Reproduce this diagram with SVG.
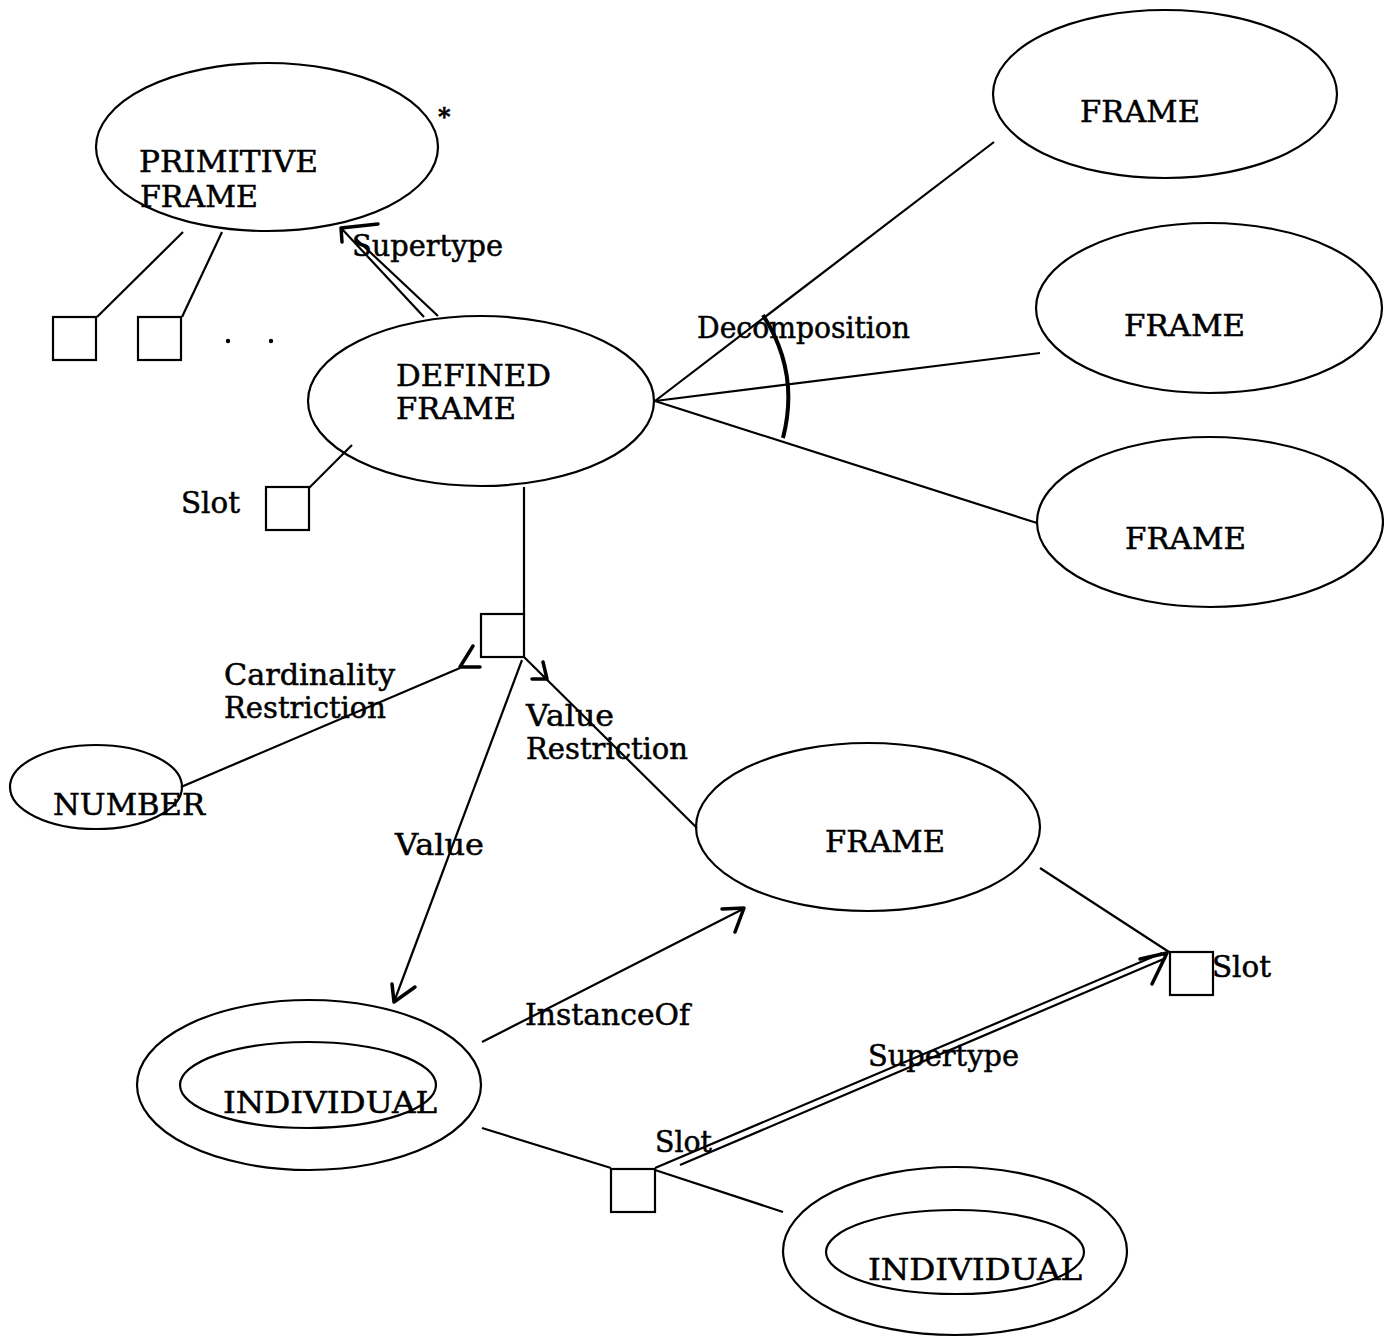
<svg xmlns="http://www.w3.org/2000/svg" width="1384" height="1338" viewBox="0 0 1384 1338">
<style>
.n{fill:none;stroke:#000;stroke-width:2.2}
.l{fill:none;stroke:#000;stroke-width:2.2}
.h{fill:none;stroke:#000;stroke-width:3.5;stroke-linecap:round;stroke-linejoin:round}
text{font-family:"DejaVu Serif","Liberation Serif",serif;font-size:29px;fill:#000;stroke:#000;stroke-width:0.5}
</style>
<rect width="1384" height="1338" fill="#fff"/>
<g id="connectors">
  <line class="l" x1="183" y1="232" x2="97" y2="317"/>
  <line class="l" x1="222" y1="232" x2="182" y2="317"/>
  <line class="l" x1="352" y1="445" x2="309" y2="488"/>
  <line class="l" x1="424" y1="317" x2="342" y2="229"/>
  <line class="l" x1="438" y1="316" x2="355" y2="238"/>
  <polyline class="h" points="378,224 341,228 342,242"/>
  <line class="l" x1="655" y1="401" x2="994" y2="142"/>
  <line class="l" x1="655" y1="401" x2="1040" y2="353"/>
  <line class="l" x1="655" y1="401" x2="1037" y2="523"/>
  <path d="M763,315 Q800,372 783,438" fill="none" stroke="#000" stroke-width="4"/>
  <line class="l" x1="524" y1="487" x2="524" y2="615"/>
  <line class="l" x1="181" y1="787" x2="460" y2="668"/>
  <polyline class="h" points="473,646 460,667 480,667"/>
  <line class="l" x1="524" y1="657" x2="697" y2="828"/>
  <polyline class="h" points="543,662 547,679 532,679"/>
  <line class="l" x1="522" y1="660" x2="394" y2="1002"/>
  <polyline class="h" points="392,984 394,1002 415,987"/>
  <line class="l" x1="482" y1="1042" x2="743" y2="909"/>
  <polyline class="h" points="722,909 744,908 735,932"/>
  <line class="l" x1="1040" y1="868" x2="1169" y2="952"/>
  <line class="l" x1="482" y1="1128" x2="611" y2="1168"/>
  <line class="l" x1="655" y1="1170" x2="783" y2="1212"/>
  <line class="l" x1="655" y1="1168" x2="1162" y2="953"/>
  <line class="l" x1="680" y1="1165" x2="1166" y2="958"/>
  <polyline class="h" points="1140,959 1167,953 1152,984"/>
</g>
<g id="primitive-frame">
  <ellipse class="n" cx="267" cy="147" rx="171" ry="84"/>
  <text x="139" y="172" textLength="179" lengthAdjust="spacingAndGlyphs">PRIMITIVE</text>
  <text x="140" y="207" textLength="118" lengthAdjust="spacingAndGlyphs">FRAME</text>
  <text x="438" y="125" style="font-size:24px;font-weight:bold">*</text>
</g>
<g id="primitive-slots">
  <rect class="n" x="53" y="317" width="43" height="43"/>
  <rect class="n" x="138" y="317" width="43" height="43"/>
  <circle cx="228" cy="341" r="2.2"/>
  <circle cx="271" cy="341" r="2.2"/>
</g>
<g id="supertype-label">
  <text x="352" y="256" textLength="151" lengthAdjust="spacingAndGlyphs">Supertype</text>
</g>
<g id="defined-frame">
  <ellipse class="n" cx="481" cy="401" rx="173" ry="85"/>
  <text x="396" y="386" textLength="155" lengthAdjust="spacingAndGlyphs">DEFINED</text>
  <text x="396" y="419" textLength="120" lengthAdjust="spacingAndGlyphs">FRAME</text>
</g>
<g id="defined-slot">
  <rect class="n" x="266" y="487" width="43" height="43"/>
  <text x="181" y="513" textLength="59" lengthAdjust="spacingAndGlyphs">Slot</text>
</g>
<g id="decomposition-label">
  <text x="697" y="338" textLength="213" lengthAdjust="spacingAndGlyphs">Decomposition</text>
</g>
<g id="frame-1">
  <ellipse class="n" cx="1165" cy="94" rx="172" ry="84"/>
  <text x="1080" y="122" textLength="120" lengthAdjust="spacingAndGlyphs">FRAME</text>
</g>
<g id="frame-2">
  <ellipse class="n" cx="1209" cy="308" rx="173" ry="85"/>
  <text x="1124" y="336" textLength="121" lengthAdjust="spacingAndGlyphs">FRAME</text>
</g>
<g id="frame-3">
  <ellipse class="n" cx="1210" cy="522" rx="173" ry="85"/>
  <text x="1125" y="549" textLength="121" lengthAdjust="spacingAndGlyphs">FRAME</text>
</g>
<g id="slot-center">
  <rect class="n" x="481" y="614" width="43" height="43"/>
</g>
<g id="cardinality-label">
  <text x="224" y="685" textLength="171" lengthAdjust="spacingAndGlyphs">Cardinality</text>
  <text x="224" y="718" textLength="162" lengthAdjust="spacingAndGlyphs">Restriction</text>
</g>
<g id="value-restriction-label">
  <text x="526" y="726" textLength="88" lengthAdjust="spacingAndGlyphs">Value</text>
  <text x="526" y="759" textLength="162" lengthAdjust="spacingAndGlyphs">Restriction</text>
</g>
<g id="number">
  <ellipse class="n" cx="96" cy="787" rx="86" ry="42"/>
  <text x="53" y="815" textLength="152" lengthAdjust="spacingAndGlyphs">NUMBER</text>
</g>
<g id="value-label">
  <text x="395" y="855" textLength="89" lengthAdjust="spacingAndGlyphs">Value</text>
</g>
<g id="frame-mid">
  <ellipse class="n" cx="868" cy="827" rx="172" ry="84"/>
  <text x="825" y="852" textLength="120" lengthAdjust="spacingAndGlyphs">FRAME</text>
</g>
<g id="slot-right">
  <rect class="n" x="1170" y="952" width="43" height="43"/>
  <text x="1212" y="977" textLength="59" lengthAdjust="spacingAndGlyphs">Slot</text>
</g>
<g id="instanceof-label">
  <text x="525" y="1025" textLength="165" lengthAdjust="spacingAndGlyphs">InstanceOf</text>
</g>
<g id="supertype-label-2">
  <text x="868" y="1066" textLength="151" lengthAdjust="spacingAndGlyphs">Supertype</text>
</g>
<g id="individual-1">
  <ellipse class="n" cx="309" cy="1085" rx="172" ry="85"/>
  <ellipse class="n" cx="308" cy="1085" rx="128" ry="43"/>
  <text x="223" y="1113" textLength="214" lengthAdjust="spacingAndGlyphs">INDIVIDUAL</text>
</g>
<g id="slot-lower">
  <rect class="n" x="611" y="1169" width="44" height="43"/>
  <text x="655" y="1152" textLength="57" lengthAdjust="spacingAndGlyphs">Slot</text>
</g>
<g id="individual-2">
  <ellipse class="n" cx="955" cy="1251" rx="172" ry="84"/>
  <ellipse class="n" cx="955" cy="1252" rx="129" ry="42"/>
  <text x="868" y="1280" textLength="214" lengthAdjust="spacingAndGlyphs">INDIVIDUAL</text>
</g>
</svg>
